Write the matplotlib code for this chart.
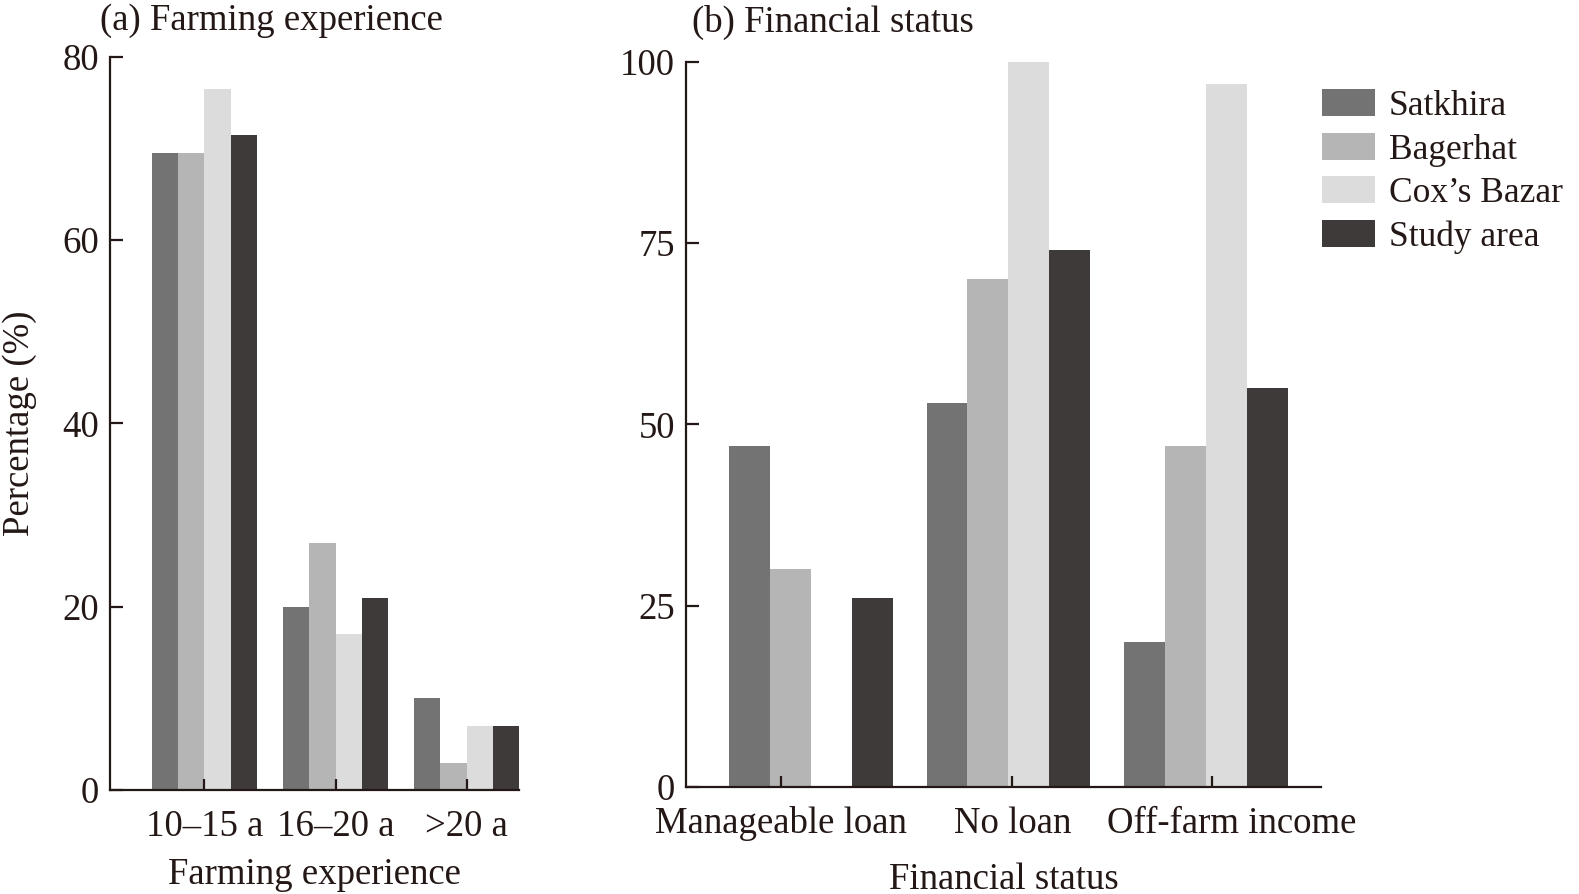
import numpy as np
import matplotlib
matplotlib.use("Agg")
import matplotlib.pyplot as plt
import matplotlib.transforms as mtrans

plt.rcParams["font.family"] = ["Liberation Serif", "DejaVu Serif"]

regions = ["Satkhira", "Bagerhat", "Cox\u2019s Bazar", "Study area"]
colors = ["#737373", "#b4b5b4", "#dcdcdc", "#3e3a39"]

exp_cats = ["10\u201315 a", "16\u201320 a", ">20 a"]
exp_vals = {
    "Satkhira": [69.5, 20, 10],
    "Bagerhat": [69.5, 27, 3],
    "Cox\u2019s Bazar": [76.5, 17, 7],
    "Study area": [71.5, 21, 7],
}

fin_cats = ["Manageable loan", "No loan", "Off-farm income"]
fin_vals = {
    "Satkhira": [47, 53, 20],
    "Bagerhat": [30, 70, 47],
    "Cox\u2019s Bazar": [0, 100, 97],
    "Study area": [26, 74, 55],
}

txt = "#231815"
fs = 26.5

fig = plt.figure(figsize=(15.79, 8.94), dpi=100)
ax1 = fig.add_axes([0.0697, 0.1163, 0.259, 0.820])
ax2 = fig.add_axes([0.4345, 0.1197, 0.402, 0.811])

def draw(ax, cats, vals, w):
    x = np.arange(len(cats))
    handles = []
    for i, r in enumerate(regions):
        h = ax.bar(x + (i - 1.5) * w, vals[r], w, color=colors[i], label=r, linewidth=0)
        handles.append(h)
    ax.set_xticks(x)
    ax.set_xticklabels(cats)
    for s in ["top", "right"]:
        ax.spines[s].set_visible(False)
    for s in ["left", "bottom"]:
        ax.spines[s].set_linewidth(1.6)
        ax.spines[s].set_color(txt)
    ax.tick_params(axis="y", direction="in", length=9, width=1.6, color=txt,
                   labelsize=fs, labelcolor=txt, pad=8)
    ax.tick_params(axis="x", direction="in", length=8, width=1.6, color=txt,
                   labelsize=fs, labelcolor=txt, pad=14)
    return handles

draw(ax1, exp_cats, exp_vals, 0.2)
ax1.set_xlim(-0.72, 2.4)
ax1.set_ylim(0, 80)
ax1.set_yticks([0, 20, 40, 60, 80])
ax1.set_xlabel("Farming experience", fontsize=fs, color=txt, labelpad=10)
ax1.set_ylabel("Percentage (%)", fontsize=fs, color=txt, labelpad=18)
ax1.text(-0.025, 1.05, "(a) Farming experience", transform=ax1.transAxes,
         fontsize=fs, color=txt, ha="left", va="center")

handles = draw(ax2, fin_cats, fin_vals, 0.207)
ax2.set_xlim(-0.63, 2.58)
ax2.set_ylim(0, 100)
ax2.set_yticks([0, 25, 50, 75, 100])
# ticks in the original sit a little off the group centres
ax2.set_xticks([-0.15, 1.02, 2.03])
ax2.set_xticklabels(fin_cats)
lab = ax2.get_xticklabels()
lab[2].set_transform(lab[2].get_transform() +
                     mtrans.ScaledTranslation(0.2, 0, fig.dpi_scale_trans))
ax2.set_xlabel("Financial status", fontsize=fs, color=txt, labelpad=15)
ax2.text(0.01, 1.055, "(b) Financial status", transform=ax2.transAxes,
         fontsize=fs, color=txt, ha="left", va="center")

leg = fig.legend(handles, regions, loc="upper left", bbox_to_anchor=(0.837, 0.90),
                 frameon=False, fontsize=25.5, handlelength=1.5, handleheight=0.8,
                 handletextpad=0.4, labelspacing=0.27, borderpad=0, borderaxespad=0)
for t in leg.get_texts():
    t.set_color(txt)

fig.savefig("out.png", dpi=100)
